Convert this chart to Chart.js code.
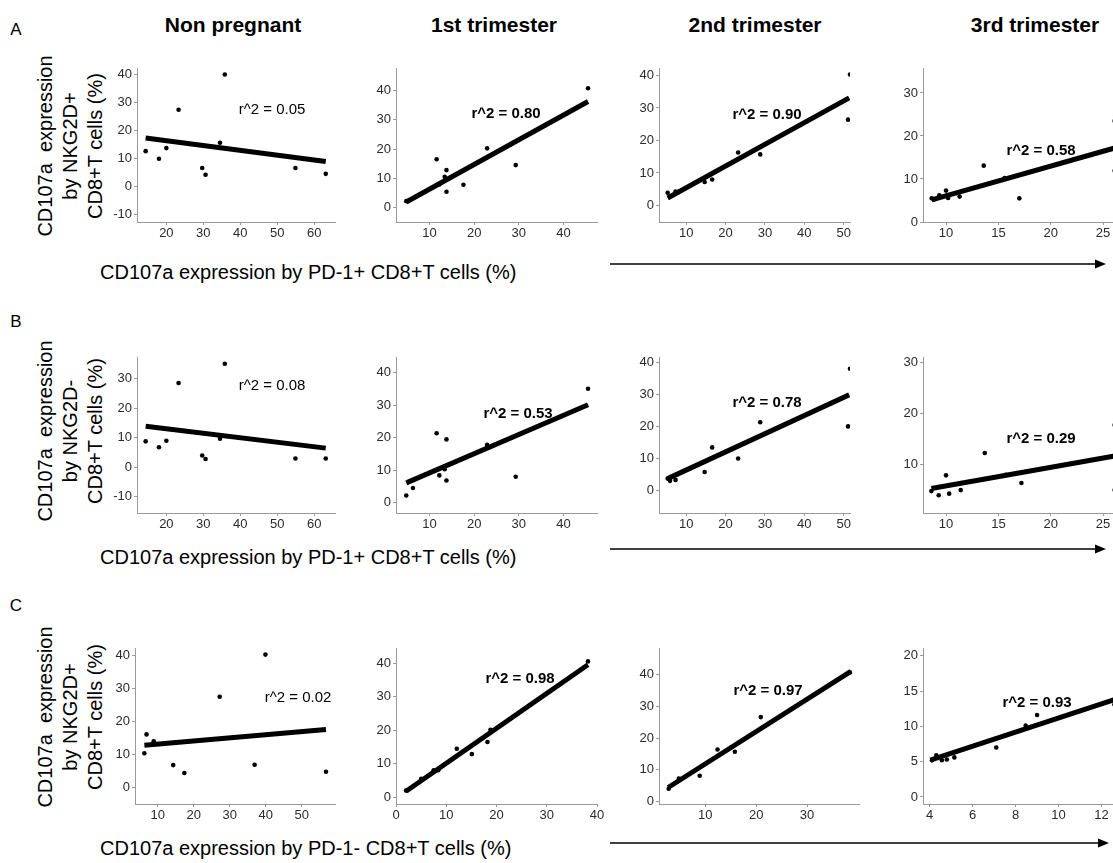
<!DOCTYPE html>
<html>
<head>
<meta charset="utf-8">
<script src="https://cdn.jsdelivr.net/npm/chart.js@4.4.1/dist/chart.umd.min.js"></script>
<style>
  html, body { margin: 0; padding: 0; width: 1113px; height: 863px; overflow: hidden; background: #fff; }
  body { position: relative; font-family: "Liberation Sans", Arial, sans-serif; color: #000; }
  .t { position: absolute; white-space: pre; }
  canvas { position: absolute; }
</style>
</head>
<body>
<script>
// ---- labels ----
const columnTitles = ['Non pregnant', '1st trimester', '2nd trimester', '3rd trimester'];
const rowLetters = ['A', 'B', 'C'];
const yTitleRowA = ['CD107a  expression', 'by NKG2D+', 'CD8+T cells (%)'];
const yTitleRowB = ['CD107a  expression', 'by NKG2D-', 'CD8+T cells (%)'];
const yTitleRowC = ['CD107a  expression', 'by NKG2D+', 'CD8+T cells (%)'];
const xTitlePos = 'CD107a expression by PD-1+ CD8+T cells (%)';
const xTitleNeg = 'CD107a expression by PD-1- CD8+T cells (%)';
const rSquaredRowA = ['0.05', '0.80', '0.90', '0.58'];
const rSquaredRowB = ['0.08', '0.53', '0.78', '0.29'];
const rSquaredRowC = ['0.02', '0.98', '0.97', '0.93'];

// ---- tick values ----
const xTicksNonPreg = [20, 30, 40, 50, 60];
const xTicksFirst = [10, 20, 30, 40];
const xTicksSecond = [10, 20, 30, 40, 50];
const xTicksThird = [10, 15, 20, 25];
const xTicksNonPregC = [10, 20, 30, 40, 50];
const xTicksFirstC = [0, 10, 20, 30, 40];
const xTicksSecondC = [10, 20, 30];
const xTicksThirdC = [4, 6, 8, 10, 12];
const yTicksA1 = [-10, 0, 10, 20, 30, 40];
const yTicks0to40 = [0, 10, 20, 30, 40];
const yTicksA4 = [0, 10, 20, 30];
const yTicksB1 = [-10, 0, 10, 20, 30];
const yTicksB4 = [10, 20, 30];
const yTicksC4 = [0, 5, 10, 15, 20];

// ---- row A: NKG2D+ vs PD-1+ ----
const a1X = [14.4, 18.0, 20.0, 23.3, 29.7, 30.6, 34.5, 35.8, 54.9, 63.1];
const a1Y = [12.7, 10.0, 13.8, 27.5, 6.7, 4.3, 15.7, 40.1, 6.7, 4.6];
const a1FitX = [14.4, 63.1];
const a1FitY = [17.4, 9.0];

const a2X = [4.8, 11.6, 12.2, 13.4, 13.8, 13.8, 17.6, 22.9, 29.3, 45.5];
const a2Y = [2.3, 16.6, 8.0, 10.6, 12.9, 5.5, 7.9, 20.3, 14.6, 40.8];
const a2FitX = [4.8, 45.5];
const a2FitY = [2.0, 36.3];

const a3X = [5.3, 7.3, 14.7, 16.6, 23.2, 28.8, 51.1, 51.6];
const a3Y = [3.9, 4.3, 7.2, 8.0, 16.3, 15.7, 26.4, 40.3];
const a3FitX = [5.3, 51.4];
const a3FitY = [2.3, 33.1];

const a4X = [8.63, 8.9, 9.36, 10.0, 10.2, 11.3, 13.6, 15.6, 17.0, 26.1, 26.1];
const a4Y = [5.5, 5.3, 6.2, 7.3, 5.6, 5.9, 13.1, 10.2, 5.5, 11.9, 23.5];
const a4FitX = [8.63, 26.1];
const a4FitY = [5.15, 17.2];

// ---- row B: NKG2D- vs PD-1+ ----
const b1X = [14.4, 18.0, 20.0, 23.3, 29.7, 30.6, 34.5, 35.8, 54.9, 63.1];
const b1Y = [8.8, 6.8, 9.0, 28.6, 4.0, 2.8, 9.7, 35.1, 3.0, 3.0];
const b1FitX = [14.4, 63.1];
const b1FitY = [13.9, 6.5];

const b2X = [4.8, 6.3, 11.6, 12.2, 13.4, 13.8, 13.8, 22.9, 29.3, 45.5];
const b2Y = [2.2, 4.5, 21.4, 8.4, 10.3, 19.5, 6.8, 17.8, 8.0, 35.1];
const b2FitX = [4.8, 45.5];
const b2FitY = [6.1, 30.2];

const b3X = [5.3, 5.9, 7.3, 14.7, 16.6, 23.2, 28.8, 51.1, 51.6];
const b3Y = [3.6, 2.9, 3.2, 5.7, 13.4, 9.9, 21.3, 20.0, 38.1];
const b3FitX = [5.3, 51.4];
const b3FitY = [3.6, 29.9];

const b4X = [8.6, 9.3, 10.0, 10.3, 11.4, 13.7, 15.7, 17.2, 26.1, 26.1];
const b4Y = [4.7, 3.9, 7.8, 4.2, 4.9, 12.2, 7.9, 6.3, 4.9, 17.7];
const b4FitX = [8.6, 26.1];
const b4FitY = [5.2, 11.6];

// ---- row C: NKG2D+ vs PD-1- ----
const c1X = [6.3, 6.9, 8.9, 14.3, 17.4, 27.2, 36.9, 39.9, 56.7];
const c1Y = [10.3, 16.0, 13.9, 6.7, 4.3, 27.4, 6.8, 40.2, 4.7];
const c1FitX = [6.3, 56.7];
const c1FitY = [12.7, 17.5];

const c2X = [2.0, 5.0, 7.5, 8.4, 12.1, 15.1, 18.2, 18.8, 38.2];
const c2Y = [2.0, 5.5, 8.1, 8.1, 14.5, 12.9, 16.5, 20.2, 40.6];
const c2FitX = [2.0, 38.2];
const c2FitY = [1.8, 39.6];

const c3X = [2.8, 4.8, 8.9, 12.4, 15.8, 20.9, 38.4];
const c3Y = [4.0, 7.2, 8.1, 16.4, 15.7, 26.6, 40.7];
const c3FitX = [2.7, 38.6];
const c3FitY = [4.4, 41.0];

const c4X = [4.11, 4.31, 4.57, 4.8, 5.15, 7.1, 8.47, 9.0, 12.6];
const c4Y = [5.2, 5.9, 5.2, 5.3, 5.6, 7.0, 10.1, 11.6, 13.1];
const c4FitX = [4.03, 12.6];
const c4FitY = [5.2, 13.8];

// ---- panel layout: plot box [left, top, width, height], axis ranges, r^2 label centre ----
const FONT = '"Liberation Sans", Arial, sans-serif';
const panels = [
  { x: a1X, y: a1Y, fx: a1FitX, fy: a1FitY, xt: xTicksNonPreg, yt: yTicksA1, xr: [12.06, 65.6], yr: [-12.6, 42.4], box: [137, 68, 198, 154], r2: rSquaredRowA[0], bold: false, at: [272, 108] },
  { x: a2X, y: a2Y, fx: a2FitX, fy: a2FitY, xt: xTicksFirst, yt: yTicks0to40, xr: [2.5, 47.5], yr: [-4.8, 47.7], box: [396, 68, 201, 154], r2: rSquaredRowA[1], bold: true, at: [506, 112] },
  { x: a3X, y: a3Y, fx: a3FitX, fy: a3FitY, xt: xTicksSecond, yt: yTicks0to40, xr: [3.1, 51.6], yr: [-5.1, 42.3], box: [659, 68, 191, 154], r2: rSquaredRowA[2], bold: true, at: [767, 113] },
  { x: a4X, y: a4Y, fx: a4FitX, fy: a4FitY, xt: xTicksThird, yt: yTicksA4, xr: [7.8, 26.9], yr: [0, 35.8], box: [923, 68, 200, 154], r2: rSquaredRowA[3], bold: true, at: [1041, 149] },

  { x: b1X, y: b1Y, fx: b1FitX, fy: b1FitY, xt: xTicksNonPreg, yt: yTicksB1, xr: [12.06, 65.6], yr: [-15.5, 37.4], box: [137, 357, 198, 156], r2: rSquaredRowB[0], bold: false, at: [272, 384] },
  { x: b2X, y: b2Y, fx: b2FitX, fy: b2FitY, xt: xTicksFirst, yt: yTicks0to40, xr: [2.5, 47.5], yr: [-3.2, 44.9], box: [396, 357, 201, 156], r2: rSquaredRowB[1], bold: true, at: [518, 412] },
  { x: b3X, y: b3Y, fx: b3FitX, fy: b3FitY, xt: xTicksSecond, yt: yTicks0to40, xr: [3.1, 51.6], yr: [-7.2, 41.8], box: [659, 357, 191, 156], r2: rSquaredRowB[2], bold: true, at: [767, 401] },
  { x: b4X, y: b4Y, fx: b4FitX, fy: b4FitY, xt: xTicksThird, yt: yTicksB4, xr: [7.8, 26.9], yr: [0.4, 31.05], box: [923, 357, 200, 156], r2: rSquaredRowB[3], bold: true, at: [1041, 437] },

  { x: c1X, y: c1Y, fx: c1FitX, fy: c1FitY, xt: xTicksNonPregC, yt: yTicks0to40, xr: [3.7, 59.2], yr: [-5.1, 42.2], box: [135, 648, 200, 156], r2: rSquaredRowC[0], bold: false, at: [298, 696] },
  { x: c2X, y: c2Y, fx: c2FitX, fy: c2FitY, xt: xTicksFirstC, yt: yTicks0to40, xr: [0, 40], yr: [-2, 44.6], box: [396, 648, 201, 156], r2: rSquaredRowC[1], bold: true, at: [520, 677] },
  { x: c3X, y: c3Y, fx: c3FitX, fy: c3FitY, xt: xTicksSecondC, yt: yTicks0to40, xr: [0.9, 40.2], yr: [-0.8, 48.4], box: [659, 648, 200, 156], r2: rSquaredRowC[2], bold: true, at: [768, 689] },
  { x: c4X, y: c4Y, fx: c4FitX, fy: c4FitY, xt: xTicksThirdC, yt: yTicksC4, xr: [3.69, 13.0], yr: [-1, 21.1], box: [923, 648, 200, 156], r2: rSquaredRowC[3], bold: true, at: [1037, 701] }
];

function addText(str, x, y, css, anchor) {
  const d = document.createElement('div');
  d.className = 't';
  d.textContent = str;
  Object.assign(d.style, css);
  d.style.left = x + 'px';
  d.style.top = y + 'px';
  d.style.transform = anchor || 'translate(-50%, -50%)';
  document.body.appendChild(d);
  return d;
}

function addYTitle(lines, cx, cy) {
  const d = document.createElement('div');
  d.className = 't';
  d.style.left = cx + 'px';
  d.style.top = cy + 'px';
  d.style.fontSize = '20px';
  d.style.lineHeight = '25px';
  d.style.textAlign = 'center';
  d.style.transform = 'translate(-50%, -50%) rotate(-90deg)';
  d.textContent = lines.join('\n');
  document.body.appendChild(d);
}

function addArrow(x1, x2, y) {
  const ns = 'http://www.w3.org/2000/svg';
  const svg = document.createElementNS(ns, 'svg');
  svg.setAttribute('width', 1113);
  svg.setAttribute('height', 20);
  svg.style.position = 'absolute';
  svg.style.left = '0px';
  svg.style.top = (y - 10) + 'px';
  const line = document.createElementNS(ns, 'line');
  line.setAttribute('x1', x1); line.setAttribute('y1', 10);
  line.setAttribute('x2', x2 - 8); line.setAttribute('y2', 10);
  line.setAttribute('stroke', '#000'); line.setAttribute('stroke-width', '1.6');
  svg.appendChild(line);
  const head = document.createElementNS(ns, 'polygon');
  head.setAttribute('points', `${x2 - 11},5.5 ${x2},10 ${x2 - 11},14.5`);
  head.setAttribute('fill', '#000');
  svg.appendChild(head);
  document.body.appendChild(svg);
}

// column headers and row letters
const headerX = [233, 494, 755, 1035];
columnTitles.forEach((t, i) => addText(t, headerX[i], 25, { fontSize: '21px', fontWeight: 'bold' }));
const letterY = [30, 322, 606];
rowLetters.forEach((t, i) => addText(t, 16, letterY[i], { fontSize: '17px' }));

// y axis titles
addYTitle(yTitleRowA, 70, 146);
addYTitle(yTitleRowB, 70, 431);
addYTitle(yTitleRowC, 70, 717);

// x axis titles + arrows
addText(xTitlePos, 100, 272, { fontSize: '20px' }, 'translate(0, -50%)');
addText(xTitlePos, 100, 557, { fontSize: '20px' }, 'translate(0, -50%)');
addText(xTitleNeg, 100, 848, { fontSize: '20px' }, 'translate(0, -50%)');
addArrow(610, 1106, 264);
addArrow(610, 1106, 549);
addArrow(610, 1109, 843);

// scatter panels
const padL = 40, padT = 10, padR = 14, padB = 30;
const axisGrey = '#9a9a9a';

function axis(range, ticks, isY) {
  return {
    type: 'linear',
    min: range[0],
    max: range[1],
    afterBuildTicks: s => { s.ticks = ticks.map(v => ({ value: v })); },
    afterFit: s => { if (isY) s.width = padL; else s.height = padB; },
    border: { display: true, color: axisGrey, width: 1 },
    grid: { display: true, drawOnChartArea: false, drawTicks: true, tickLength: 3, color: axisGrey },
    ticks: {
      color: '#2b2b2b',
      padding: isY ? 2 : 1,
      maxRotation: 0,
      autoSkip: false,
      font: { family: FONT, size: 13 }
    }
  };
}

panels.forEach(p => {
  const [bl, bt, bw, bh] = p.box;
  const W = bw + padL + padR, H = bh + padT + padB;
  const cv = document.createElement('canvas');
  cv.width = W; cv.height = H;
  cv.style.left = (bl - padL) + 'px';
  cv.style.top = (bt - padT) + 'px';
  cv.style.width = W + 'px';
  cv.style.height = H + 'px';
  document.body.appendChild(cv);

  new Chart(cv, {
    type: 'scatter',
    data: {
      datasets: [
        {
          data: p.fx.map((v, i) => ({ x: v, y: p.fy[i] })),
          showLine: true,
          borderColor: '#000',
          borderWidth: 5,
          borderCapStyle: 'butt',
          pointRadius: 0,
          order: 2
        },
        {
          data: p.x.map((v, i) => ({ x: v, y: p.y[i] })),
          pointRadius: 2.3,
          pointBackgroundColor: '#000',
          pointBorderWidth: 0,
          borderWidth: 0,
          order: 1
        }
      ]
    },
    options: {
      responsive: false,
      devicePixelRatio: 1,
      animation: false,
      events: [],
      layout: { padding: { left: 0, top: padT, right: padR, bottom: 0 } },
      plugins: { legend: { display: false }, tooltip: { enabled: false } },
      scales: {
        x: axis(p.xr, p.xt, false),
        y: axis(p.yr, p.yt, true)
      }
    }
  });

  addText('r^2 = ' + p.r2, p.at[0], p.at[1], { fontSize: '15px', fontWeight: p.bold ? 'bold' : 'normal' });
});
</script>
</body>
</html>
